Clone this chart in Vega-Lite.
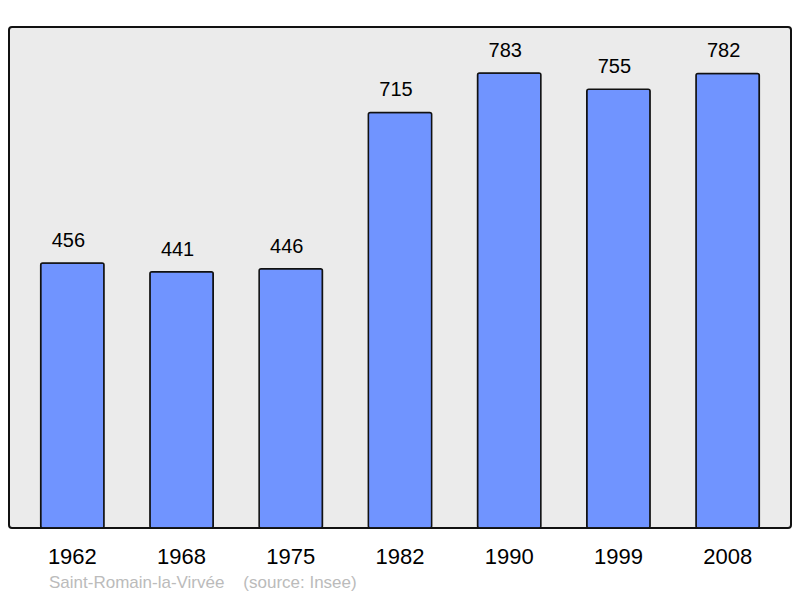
{
  "$schema": "https://vega.github.io/schema/vega-lite/v6.json",
  "width": 782,
  "height": 501,
  "autosize": {"type": "none"},
  "padding": {"left": 9, "top": 27, "right": 9, "bottom": 70},
  "background": "white",
  "config": {
    "font": "Liberation Sans",
    "view": {"fill": "#ebebeb", "stroke": "#111111", "strokeWidth": 2, "cornerRadius": 3}
  },
  "title": {
    "text": "Saint-Romain-la-Virvée\u00a0\u00a0\u00a0\u00a0(source: Insee)",
    "orient": "bottom",
    "anchor": "start",
    "dx": 40,
    "offset": 8,
    "fontSize": 17,
    "fontWeight": "normal",
    "color": "#bbbbbb",
    "font": "Liberation Sans"
  },
  "data": {
    "values": [
      {"year": "1962", "pop": 456},
      {"year": "1968", "pop": 441},
      {"year": "1975", "pop": 446},
      {"year": "1982", "pop": 715},
      {"year": "1990", "pop": 783},
      {"year": "1999", "pop": 755},
      {"year": "2008", "pop": 782}
    ]
  },
  "encoding": {
    "x": {
      "field": "year",
      "type": "nominal",
      "sort": null,
      "scale": {"paddingInner": 0.42, "paddingOuter": 0.29},
      "axis": {
        "title": null,
        "labelAngle": 0,
        "labelFontSize": 22,
        "labelColor": "#000000",
        "labelPadding": 18,
        "ticks": false,
        "domain": false,
        "labelFont": "Liberation Sans"
      }
    },
    "y": {
      "field": "pop",
      "type": "quantitative",
      "scale": {"domain": [0, 862], "nice": false},
      "axis": null
    }
  },
  "layer": [
    {
      "mark": {"type": "bar", "color": "#7094ff", "stroke": "#111111", "strokeWidth": 1.5, "cornerRadius": 2}
    },
    {
      "mark": {"type": "text", "dy": -22, "dx": -4, "fontSize": 20, "color": "#000000", "font": "Liberation Sans"},
      "encoding": {"text": {"field": "pop", "type": "quantitative"}}
    }
  ]
}
